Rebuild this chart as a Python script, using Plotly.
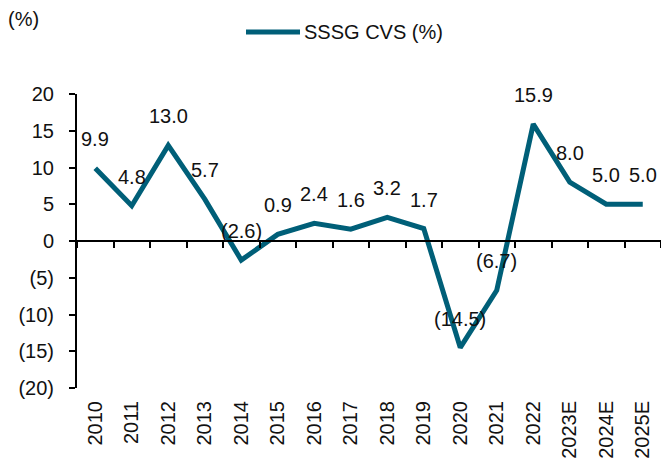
import plotly.graph_objects as go

years = ['2010', '2011', '2012', '2013', '2014', '2015', '2016', '2017',
         '2018', '2019', '2020', '2021', '2022', '2023E', '2024E', '2025E']
sssg = [9.9, 4.8, 13.0, 5.7, -2.6, 0.9, 2.4, 1.6, 3.2, 1.7, -14.5, -6.7, 15.9, 8.0, 5.0, 5.0]
y_ticks = [20, 15, 10, 5, 0, -5, -10, -15, -20]

line_color = '#005f78'
font_family = 'Liberation Sans, Arial, sans-serif'

W, H = 661, 466
L, R, T, B = 77, 0, 94, 78
PW, PH = W - L - R, H - T - B


def fmt(v, dec=1):
    s = f"{abs(v):.{dec}f}"
    return f"({s})" if v < 0 else s


def px(x):  # pixel x -> paper x
    return (x - L) / PW


def py(y):  # pixel y (from top) -> paper y
    return (H - B - y) / PH


fig = go.Figure()

# main line (lower axis carries the year labels)
fig.add_trace(go.Scatter(
    x=years, y=sssg, mode='lines', name='SSSG CVS (%)',
    line=dict(color=line_color, width=5), showlegend=False,
    xaxis='x', yaxis='y'
))
# invisible copy so the axis drawn at zero has the same categories
fig.add_trace(go.Scatter(
    x=years, y=sssg, mode='lines', line=dict(width=0),
    opacity=0, hoverinfo='skip', showlegend=False,
    xaxis='x2', yaxis='y'
))

# data labels above each point
for i, v in enumerate(sssg):
    fig.add_annotation(
        x=i, y=v, xref='x', yref='y', text=fmt(v), showarrow=False,
        yshift=29, font=dict(size=20, color='#111111', family=font_family)
    )

fig.update_layout(
    width=W, height=H,
    margin=dict(l=L, r=R, t=T, b=B, autoexpand=False),
    paper_bgcolor='white', plot_bgcolor='white',
    font=dict(family=font_family, size=20, color='#111111'),
    showlegend=False,
    xaxis=dict(
        type='category', categoryorder='array', categoryarray=years,
        range=[-0.5, len(years) - 0.5],
        showline=False, ticks='', showgrid=False, zeroline=False,
        tickangle=-90, ticklabelstandoff=8, automargin=False
    ),
    xaxis2=dict(
        type='category', categoryorder='array', categoryarray=years,
        range=[-0.5, len(years) - 0.5],
        overlaying='x', anchor='free', position=0.5,
        showline=True, linecolor='black', linewidth=2,
        ticks='outside', tickson='boundaries', ticklen=6, tickwidth=2, tickcolor='black',
        showticklabels=False, showgrid=False, zeroline=False
    ),
    yaxis=dict(
        range=[-20, 20],
        tickvals=y_ticks, ticktext=[fmt(t, 0) for t in y_ticks],
        showline=True, linecolor='black', linewidth=2,
        ticks='outside', ticklen=6, tickwidth=2, tickcolor='black',
        showgrid=False, zeroline=False, ticklabelstandoff=11, automargin=False
    ),
)

# legend drawn by hand (line + label) and the unit label
fig.add_shape(type='line', xref='paper', yref='paper',
              x0=px(246), x1=px(300), y0=py(32), y1=py(32),
              line=dict(color=line_color, width=5))
fig.add_annotation(x=px(302), y=py(32), xref='paper', yref='paper',
                   text='SSSG CVS (%)', showarrow=False, xanchor='left', yanchor='middle')
fig.add_annotation(x=px(6), y=py(19), xref='paper', yref='paper',
                   text='(%)', showarrow=False, xanchor='left', yanchor='middle')

# drop the default 8px page margin so the figure fills the window
fig.write_html("out.html", config={'displayModeBar': False},
               post_script="document.body.style.margin='0';")
